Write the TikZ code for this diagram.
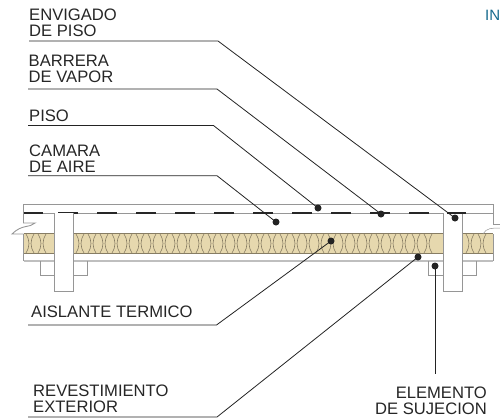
\documentclass[tikz,border=0pt]{standalone}
\usepackage{fontspec}
\setmainfont{Liberation Sans}
\definecolor{ins}{RGB}{230,216,174}
\definecolor{wall}{RGB}{150,150,150}
\definecolor{insline}{RGB}{135,125,100}
\definecolor{lead}{RGB}{35,35,35}
\definecolor{teal}{RGB}{20,105,140}
\tikzset{
 x=1pt,y=-1pt,
 wl/.style={draw=wall,line width=0.9pt},
 ld/.style={draw=lead,line width=0.8pt},
 dotm/.style={circle,fill=lead,inner sep=0pt,minimum size=7pt},
 lab/.style={anchor=south west,inner sep=0pt,align=left,font=\fontsize{16.6}{16}\selectfont,text=black!85},
 laby/.style={lab,anchor=south east,align=right},
 pair/.style={insline,line width=0.6pt}
}
\newcommand{\fibrepair}[1]{\draw[pair] (#1,234) .. controls (#1+4,241) and (#1+4,246) .. (#1,253) (#1+8,234) .. controls (#1+4,241) and (#1+4,246) .. (#1+8,253);}
\begin{document}
\begin{tikzpicture}
\useasboundingbox (0,0) rectangle (500,418);
% insulation
\fill[ins] (23.5,233.5) rectangle (54.5,253);
\fill[ins] (74,233.5) rectangle (443,253);
\fill[ins] (462.5,233.5) rectangle (493,253);
\draw[insline,line width=0.6pt] (23.5,233.5)--(54.5,233.5) (74,233.5)--(443,233.5) (462.5,233.5)--(493,233.5);
\draw[insline,line width=0.5pt] (23.5,253)--(54.5,253) (74,253)--(443,253) (462.5,253)--(493,253);
\foreach \x in {26,38}{\fibrepair{\x}}
\foreach \x in {76,88,...,432}{\fibrepair{\x}}
\foreach \x in {466,478}{\fibrepair{\x}}
% boards
\draw[wl] (23.5,213)--(23.5,204.5)--(493,204.5)--(493,224)--(500,224);
\draw[wl] (23.5,213)--(493,213);
\draw[wl] (23.5,213)--(23.5,223)--(35,223) .. controls (30,228) and (22,224) .. (12,234)--(23.5,234);
\draw[wl,line width=0.5pt] (483,234) .. controls (486,228) and (492,228) .. (500,228);
\draw[wl] (23.5,234)--(23.5,261);
\draw[wl] (493,234)--(493,261);
\draw[black!25,line width=1.6pt] (23.5,261)--(493,261);
% floor dashes
\draw[black!85,line width=1.6pt] (23.5,213)--(43,213);
\foreach \x in {58,97,...,430}{\draw[black!85,line width=1.6pt] (\x,213)--(\x+20,213);}
% blocks
\draw[wl] (40.5,261)--(40.5,275.5)--(54.5,275.5) (73.5,275.5)--(87.5,275.5)--(87.5,261);
\draw[wl] (428.5,261)--(428.5,275.5)--(443,275.5) (462.5,275.5)--(476.5,275.5)--(476.5,261);
% joists
\draw[wl,fill=white] (54.5,213)--(54.5,291)--(73.5,291)--(73.5,213);
\draw[wl,fill=white] (443,213)--(443,291)--(462.5,291)--(462.5,213);
\draw[black!85,line width=1.6pt] (447,213)--(466,213);
% labels
\node[lab] (t1) at (29,37) {ENVIGADO\\DE PISO};
\node[lab] (t2) at (28.5,83) {BARRERA\\DE VAPOR};
\node[lab] (t3) at (29,122) {PISO};
\node[lab] (t4) at (29,173) {CAMARA\\DE AIRE};
\node[lab] (t5) at (31,318) {AISLANTE TERMICO};
\node[lab] (t6) at (33,413) {REVESTIMIENTO\\EXTERIOR};
\node[laby] (t7) at (487,415) {ELEMENTO\\DE SUJECION};
\node[anchor=base west,inner sep=0pt,font=\fontsize{15}{15}\selectfont,text=teal] (t8) at (485,20) {IN};
% leaders
\node[dotm] (d1) at (455,218) {};
\node[dotm] (d2) at (381,214) {};
\node[dotm] (d3) at (318,208) {};
\node[dotm] (d4) at (276,222) {};
\node[dotm] (d5) at (331,241) {};
\node[dotm] (d6) at (418,257) {};
\node[dotm] (d7) at (435,266) {};
\coordinate (s1) at (29,41); \coordinate (b1) at (218,41);
\coordinate (s2) at (28,89); \coordinate (b2) at (217,89);
\coordinate (s3) at (28,125.5); \coordinate (b3) at (213.5,125.5);
\coordinate (s4) at (28,175.7); \coordinate (b4) at (217,175.7);
\coordinate (s5) at (28,325); \coordinate (b5) at (216.5,325);
\coordinate (s6) at (28,417); \coordinate (b6) at (217,417);
\coordinate (e7) at (435,373.5);
\draw[ld] (s1)--(b1)--(d1.center);
\draw[ld] (s2)--(b2)--(d2.center);
\draw[ld] (s3)--(b3)--(d3.center);
\draw[ld] (s4)--(b4)--(d4.center);
\draw[ld] (s5)--(b5)--(d5.center);
\draw[ld] (s6)--(b6)--(d6.center);
\draw[ld] (e7)--(d7.center);
\end{tikzpicture}
\end{document}
